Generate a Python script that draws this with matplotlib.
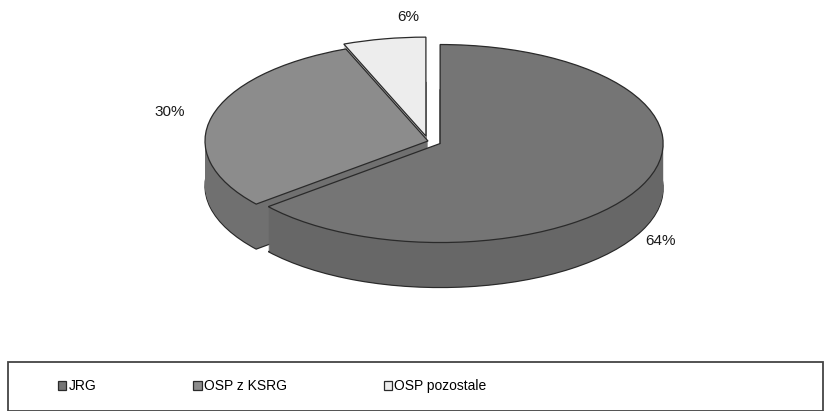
import numpy as np
import matplotlib.pyplot as plt
from matplotlib.patches import Rectangle

# --- Données ---
categories = ["JRG", "OSP z KSRG", "OSP pozostale"]
parts = [64, 30, 6]

couleurs_dessus = ["#757575", "#8c8c8c", "#ededed"]
couleurs_cote = ["#676767", "#707070", "#c8c8c8"]
eclatement = [0.06, 0.0, 0.05]

plt.rcParams["font.family"] = ["Liberation Sans", "DejaVu Sans"]

W, H = 831, 411
fig = plt.figure(figsize=(W / 100, H / 100), dpi=100)
ax = fig.add_axes([0, 0, 1, 1])

# géométrie du camembert (en pixels)
cx, cy, rx, ry, prof = 428, 141, 223, 99, 45


def px(x, y):
    return (x - cx) / rx, (cy - y) / ry


# --- Épaisseur (côté) ---
niveaux = np.arange(prof, 0, -1) / ry
for i, d in enumerate(niveaux):
    lw = 0.9 if i == 0 else 0
    ax.pie(parts, startangle=90, counterclock=False, explode=eclatement,
           colors=couleurs_cote, center=(0, -d), radius=1,
           wedgeprops=dict(linewidth=lw, edgecolor="#2a2a2a"))

# --- Dessus ---
wedges, _ = ax.pie(parts, startangle=90, counterclock=False, explode=eclatement,
                   colors=couleurs_dessus, center=(0, 0), radius=1,
                   wedgeprops=dict(linewidth=0.9, edgecolor="#2a2a2a"))

ax.set_aspect("auto")
ax.set_xlim(px(0, 0)[0], px(W, 0)[0])
ax.set_ylim(px(0, H)[1], px(0, 0)[1])
ax.axis("off")

# --- Étiquettes ---
pos_etiquettes = [(660, 241), (170, 112), (408, 17)]
for v, (x, y) in zip(parts, pos_etiquettes):
    ax.text(*px(x, y), f"{v}%", ha="center", va="center", fontsize=11,
            color="#1a1a1a")

# --- Légende ---
fig.patches.append(Rectangle((8 / W, 0), (823 - 8) / W, 1 - 362 / H,
                             transform=fig.transFigure, fill=False,
                             edgecolor="#444444", linewidth=1.3))
fig.legend(wedges, categories, loc="center left",
           bbox_to_anchor=(51 / W, 1 - 386 / H), ncol=3, frameon=False,
           fontsize=10, handlelength=0.6, handleheight=0.6,
           handletextpad=0.15, columnspacing=7.0, borderpad=0)

fig.savefig("out.png", dpi=100)
